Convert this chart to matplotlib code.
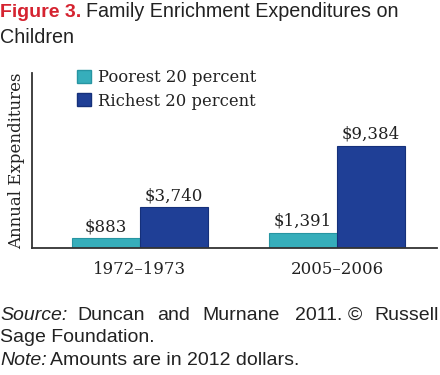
import matplotlib.pyplot as plt
import numpy as np
from matplotlib.patches import Patch

# data
periods = ["1972\u20131973", "2005\u20132006"]
poorest = [883, 1391]
richest = [3740, 9384]
series_names = ["Poorest 20 percent", "Richest 20 percent"]

teal = "#36aebb"
blue = "#1f3f96"
serif = "DejaVu Serif"
sans = "Liberation Sans"

fig = plt.figure(figsize=(4.4, 3.75), dpi=100)
ax = fig.add_axes([32/440, 1-248/375, 405/440, 175/375])

x = np.arange(len(periods))
w = 0.345
b1 = ax.bar(x - w/2, poorest, w, color=teal, edgecolor="#2795a2", linewidth=0.8)
b2 = ax.bar(x + w/2, richest, w, color=blue, edgecolor="#15307a", linewidth=0.8)

for bars, vals in ((b1, poorest), (b2, richest)):
    for r, v in zip(bars, vals):
        ax.text(r.get_x() + r.get_width()/2, v + 300, f"${v:,}",
                ha="center", va="bottom", family=serif, fontsize=12, color="#222222")

ax.set_xlim(-0.548, 1.508)
ax.set_ylim(0, 16100)
ax.set_xticks(x)
ax.set_xticklabels(periods, family=serif, fontsize=12, color="#222222")
ax.tick_params(length=0, pad=9)
ax.set_yticks([])
ax.set_ylabel("Annual Expenditures", family=serif, fontsize=12, color="#222222", labelpad=5)
for s in ("top", "right"):
    ax.spines[s].set_visible(False)
for s in ("left", "bottom"):
    ax.spines[s].set_color("#333333")
    ax.spines[s].set_linewidth(1.3)

handles = [Patch(facecolor=teal, edgecolor="#2795a2"), Patch(facecolor=blue, edgecolor="#15307a")]
leg = ax.legend(handles, series_names, loc="upper left", bbox_to_anchor=(77/440, 1-69/375),
                bbox_transform=fig.transFigure, frameon=False,
                prop={"family": serif, "size": 11.8}, handlelength=0.85, handleheight=0.85,
                handletextpad=0.45, labelspacing=0.4, borderpad=0, borderaxespad=0)
for t in leg.get_texts():
    t.set_color("#222222")

# title
fig.text(0, 1-17/375, "Figure 3.", family=sans, weight="bold", color="#d52330",
         fontsize=14, va="baseline", ha="left")
fig.text(86/440, 1-17/375, "Family Enrichment Expenditures on", family=sans,
         color="#222222", fontsize=14.2, va="baseline", ha="left")
fig.text(0, 1-43/375, "Children", family=sans, color="#222222", fontsize=14.2,
         va="baseline", ha="left")

# footer (justified first line)
words = [("Source:", 0, "italic", "left"), ("Duncan", 77, "normal", "left"),
         ("and", 157, "normal", "left"), ("Murnane", 202, "normal", "left"),
         ("2011.", 295, "normal", "left"), ("\u00a9", 348, "normal", "left"),
         ("Russell", 439, "normal", "right")]
for wd, px, st, al in words:
    fig.text(px/440, 1-320/375, wd, family=sans, style=st, color="#222222",
             fontsize=14, va="baseline", ha=al)
fig.text(0, 1-342/375, "Sage Foundation.", family=sans, color="#222222",
         fontsize=14, va="baseline", ha="left")
fig.text(0, 1-365/375, "Note:", family=sans, style="italic", color="#222222",
         fontsize=14, va="baseline", ha="left")
fig.text(50/440, 1-365/375, "Amounts are in 2012 dollars.", family=sans, color="#222222",
         fontsize=14, va="baseline", ha="left")

fig.savefig("out.png", dpi=100)
